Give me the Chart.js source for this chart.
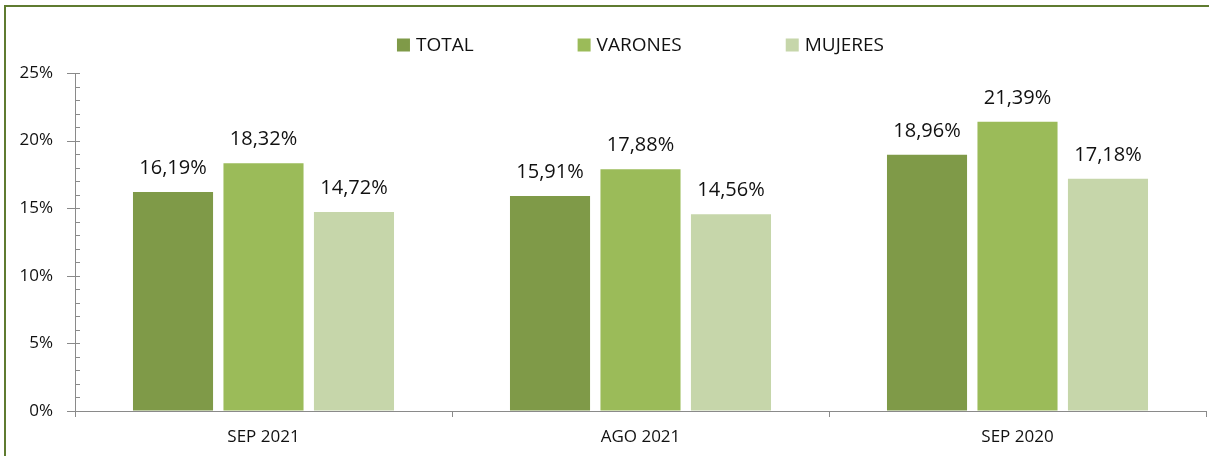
<!DOCTYPE html>
<html>
<head>
<meta charset="utf-8">
<script src="https://cdn.jsdelivr.net/npm/chart.js@4"></script>
<style>
  html, body { margin: 0; padding: 0; background: #fff; overflow: hidden; }
  #wrap { position: relative; width: 1209px; height: 456px; }
  #frame { position: absolute; left: 4px; top: 5px; width: 1400px; height: 600px;
           border-left: 2px solid #5f7b30; border-top: 2px solid #5f7b30; }
  canvas { position: absolute; left: 0; top: 0; }
</style>
</head>
<body>
<div id="wrap">
  <div id="frame"></div>
  <canvas id="chart" width="1209" height="456"></canvas>
</div>
<script>
const categories = ['SEP 2021', 'AGO 2021', 'SEP 2020'];
const seriesNames = ['TOTAL', 'VARONES', 'MUJERES'];
const totalValues = [16.19, 15.91, 18.96];
const varonesValues = [18.32, 17.88, 21.39];
const mujeresValues = [14.72, 14.56, 17.18];
const seriesColors = ['#7f9a48', '#9bbb59', '#c6d6aa'];

const FONT = '"Open Sans", "Noto Sans", sans-serif';
const AXIS_COLOR = '#8a8a8a';

// value labels above each bar, e.g. "16,19%"
const barLabelPlugin = {
    id: 'barLabels',
    afterDatasetsDraw(chart) {
        const ctx = chart.ctx;
        ctx.save();
        ctx.font = '20px ' + FONT;
        ctx.fillStyle = '#111';
        ctx.textAlign = 'center';
        ctx.textBaseline = 'alphabetic';
        chart.data.datasets.forEach((ds, i) => {
            chart.getDatasetMeta(i).data.forEach((bar, j) => {
                const txt = ds.data[j].toFixed(2).replace('.', ',') + '%';
                ctx.fillText(txt, bar.x, bar.y - 18);
            });
        });
        ctx.restore();
    }
};

// y axis tick marks: crossing marks every 5%, small inner marks every 1%
const yTickPlugin = {
    id: 'yTicks',
    afterDraw(chart) {
        const y = chart.scales.y;
        const ctx = chart.ctx;
        const x0 = chart.chartArea.left;
        ctx.save();
        ctx.strokeStyle = AXIS_COLOR;
        ctx.lineWidth = 1;
        for (let v = 0; v <= 25; v++) {
            const py = Math.round(y.getPixelForValue(v)) + 0.5;
            ctx.beginPath();
            if (v % 5 === 0) {
                ctx.moveTo(x0 - 8, py);
                ctx.lineTo(x0 + 5, py);
            } else {
                ctx.moveTo(x0, py);
                ctx.lineTo(x0 + 5, py);
            }
            ctx.stroke();
        }
        ctx.restore();
    }
};

// legend row centred over the plot area
const legendPlugin = {
    id: 'topLegend',
    afterDraw(chart) {
        const ctx = chart.ctx;
        const box = 13, gapText = 6, gapItem = 104, cy = 45;
        ctx.save();
        ctx.font = '19px ' + FONT;
        ctx.textBaseline = 'middle';
        const items = chart.data.datasets.map(ds => ({
            label: ds.label, color: ds.backgroundColor, w: ctx.measureText(ds.label).width
        }));
        let total = 0;
        items.forEach((it, i) => { total += box + gapText + it.w + (i ? gapItem : 0); });
        const mid = (chart.chartArea.left + chart.chartArea.right) / 2;
        let x = mid - total / 2;
        items.forEach(it => {
            ctx.fillStyle = it.color;
            ctx.fillRect(x, cy - box / 2, box, box);
            ctx.fillStyle = '#111';
            ctx.fillText(it.label, x + box + gapText, cy + 1);
            x += box + gapText + it.w + gapItem;
        });
        ctx.restore();
    }
};

const seriesValues = [totalValues, varonesValues, mujeresValues];

new Chart(document.getElementById('chart').getContext('2d'), {
    type: 'bar',
    data: {
        labels: categories,
        datasets: seriesNames.map((name, i) => ({
            label: name,
            data: seriesValues[i],
            backgroundColor: seriesColors[i],
            borderWidth: 0,
            categoryPercentage: 0.72,
            barPercentage: 0.885
        }))
    },
    options: {
        responsive: false,
        animation: false,
        layout: { padding: { top: 73, right: 3, left: 0, bottom: 0 } },
        plugins: {
            legend: { display: false },
            tooltip: { enabled: false }
        },
        scales: {
            y: {
                min: 0,
                max: 25,
                afterFit: s => { s.width = 75; },
                ticks: {
                    stepSize: 5,
                    padding: 22,
                    color: '#111',
                    font: { family: FONT, size: 17 },
                    callback: v => v + '%'
                },
                grid: { display: true, drawOnChartArea: false, drawTicks: false },
                border: { display: true, color: AXIS_COLOR }
            },
            x: {
                afterFit: s => { s.height = 45; },
                ticks: {
                    padding: 10,
                    color: '#111',
                    font: { family: FONT, size: 17 }
                },
                grid: { drawOnChartArea: false, tickLength: 6, color: AXIS_COLOR },
                border: { display: true, color: AXIS_COLOR }
            }
        }
    },
    plugins: [barLabelPlugin, yTickPlugin, legendPlugin]
});
</script>
</body>
</html>
